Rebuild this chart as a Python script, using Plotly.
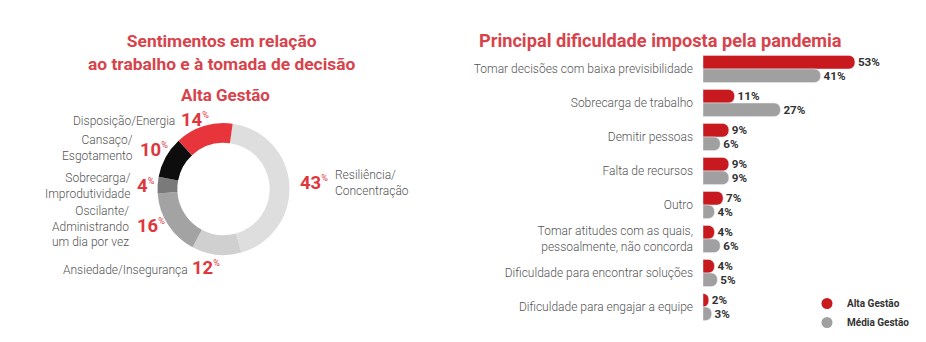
import plotly.graph_objects as go

W, H = 926, 342

# ---------------- data ----------------
sent_title = "Sentimentos em relação<br>ao trabalho e à tomada de decisão"
sent_subtitle = "Alta Gestão"
sent_labels = [
    "Resiliência/<br>Concentração",
    "Ansiedade/Insegurança",
    "Oscilante/<br>Administrando<br>um dia por vez",
    "Sobrecarga/<br>Improdutividade",
    "Cansaço/<br>Esgotamento",
    "Disposição/Energia",
]
sent_values = [43, 12, 16, 4, 10, 14]

bar_title = "Principal dificuldade imposta pela pandemia"
categories = [
    "Tomar decisões com baixa previsibilidade",
    "Sobrecarga de trabalho",
    "Demitir pessoas",
    "Falta de recursos",
    "Outro",
    "Tomar atitudes com as quais,<br>pessoalmente, não concorda",
    "Dificuldade para encontrar soluções",
    "Dificuldade para engajar a equipe",
]
alta_gestao = [53, 11, 9, 9, 7, 4, 4, 2]
media_gestao = [41, 27, 6, 9, 4, 6, 5, 3]
series_names = ["Alta Gestão", "Média Gestão"]

# ---------------- styles ----------------
sent_colors = ["#dedede", "#d0d0d0", "#a3a3a3", "#7a7a7a", "#0d0d0d", "#e8353b"]
title_color = "#d8434b"
pct_color = "#e0363d"
label_color = "#555555"
bar_colors = ["#c8191e", "#a0a0a0"]
FONT = "Roboto"


def px(x):
    return x / W


def py(y):
    return 1 - y / H


# label placement in pixels: (side, label_x, label_y, pct_left_x, pct_y)
label_pos = [
    ("right", 333, 183, 298, 183),   # Resiliência
    ("left", 190, 270, 190, 268),    # Ansiedade
    ("left", 131, 226, 135, 226),    # Oscilante
    ("left", 133, 186, 135, 186),    # Sobrecarga
    ("left", 135, 148, 138, 150),    # Cansaço
    ("left", 177, 121, 179, 120),    # Disposição
]

fig = go.Figure()

fig.add_trace(go.Pie(
    labels=[l.replace("<br>", " ") for l in sent_labels],
    values=sent_values,
    marker=dict(colors=sent_colors, line=dict(width=0)),
    hole=0.70,
    sort=False,
    direction="clockwise",
    rotation=8,
    textinfo="none",
    showlegend=False,
    domain=dict(x=[px(157), px(290)], y=[py(255), py(123)]),
))

for vals, name, col, grp in zip([alta_gestao, media_gestao], series_names, bar_colors, ["a", "m"]):
    fig.add_trace(go.Bar(
        y=categories, x=vals, orientation="h", name=name,
        marker=dict(color=col), showlegend=False, legendgroup=grp,
        texttemplate="%{x}%", textposition="outside", cliponaxis=False,
        textfont=dict(family=FONT, size=12, color="#333333", weight="bold"),
    ))
# legend entries with round symbols
for name, col, grp in zip(series_names, bar_colors, ["a", "m"]):
    fig.add_trace(go.Scatter(
        x=[None], y=[None], mode="markers", name=name, legendgroup=grp,
        marker=dict(color=col, size=11, symbol="circle"), showlegend=True,
    ))

def ann(x, y, text, xanchor, font, align="center"):
    return dict(x=px(x), y=py(y), xref="paper", yref="paper", text=text,
                showarrow=False, xanchor=xanchor, yanchor="middle", align=align,
                font=font)

lab_font = dict(family=FONT, size=12, color=label_color, weight=300)
pct_font = dict(family=FONT, size=18.5, color=pct_color)

annotations = [
    ann(221, 52, f"<b>{sent_title}</b>", "center",
        dict(family=FONT, size=17.4, color=title_color)),
    ann(225, 95, f"<b>{sent_subtitle}</b>", "center",
        dict(family=FONT, size=17, color=title_color)),
    ann(660, 41, f"<b>{bar_title}</b>", "center",
        dict(family=FONT, size=18.2, color=title_color)),
]

for lab, val, pos in zip(sent_labels, sent_values, label_pos):
    side, lx, ly, ppx, ppy = pos
    pct_text = f"<b>{val}</b><sup><span style='font-size:9px'>%</span></sup>"
    if side == "left":
        annotations.append(ann(lx, ly, lab, "right", lab_font, align="right"))
    else:
        annotations.append(ann(lx, ly, lab, "left", lab_font, align="left"))
    annotations.append(ann(ppx, ppy, pct_text, "left", pct_font))

fig.update_layout(
    width=W, height=H,
    margin=dict(l=0, r=0, t=0, b=0),
    paper_bgcolor="white", plot_bgcolor="white",
    barmode="group", bargap=0.2, bargroupgap=0.0, barcornerradius=6,
    xaxis=dict(domain=[px(703), px(875)], range=[0, 60], visible=False, fixedrange=True),
    yaxis=dict(domain=[py(324), py(52)], autorange="reversed", showgrid=False,
               showline=False, zeroline=False, ticks="", ticklabelstandoff=9,
               tickfont=dict(family=FONT, size=12, color=label_color, weight=300)),
    legend=dict(x=px(807), y=py(289), xanchor="left", yanchor="top",
                bgcolor="rgba(0,0,0,0)", tracegroupgap=0, itemwidth=30,
                font=dict(family=FONT, size=10, color="#333333", weight="bold")),
    annotations=annotations,
    font=dict(family=FONT),
)

fig.write_html("out.html")
